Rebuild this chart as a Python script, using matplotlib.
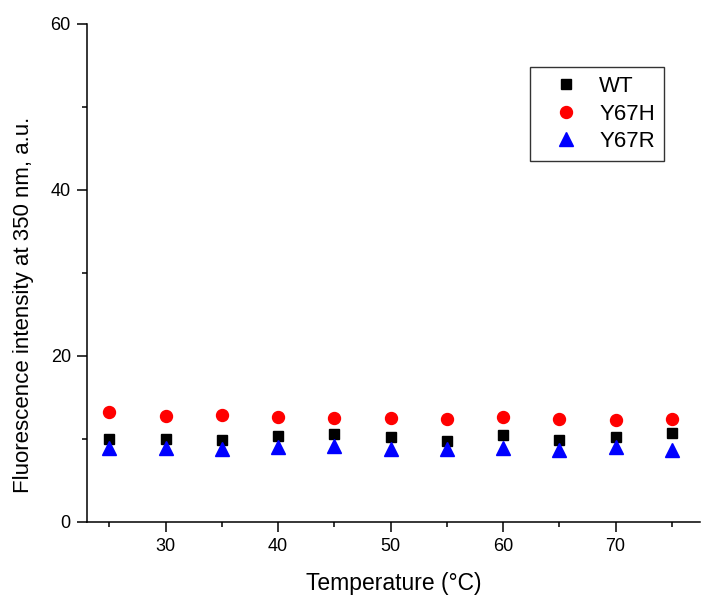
import matplotlib
matplotlib.use("Agg")
import matplotlib.pyplot as plt
from matplotlib.ticker import MultipleLocator

plt.rcParams['font.family'] = ['Liberation Sans', 'DejaVu Sans']

temperature = [25, 30, 35, 40, 45, 50, 55, 60, 65, 70, 75]
wt = [10.04, 9.98, 9.88, 10.38, 10.60, 10.24, 9.80, 10.44, 9.92, 10.24, 10.68]
y67h = [13.22, 12.77, 12.89, 12.61, 12.49, 12.49, 12.41, 12.61, 12.41, 12.29, 12.41]
y67r = [8.95, 8.87, 8.75, 9.00, 9.12, 8.84, 8.75, 8.87, 8.67, 9.00, 8.67]

fig = plt.figure(figsize=(7.01, 6.02), dpi=100)
ax = fig.add_axes([87/701, 1-522/602, (700-87)/701, (522-24)/602])

ax.plot(temperature, wt, linestyle='none', marker='s', color='black', markersize=7.2, label='WT')
ax.plot(temperature, y67h, linestyle='none', marker='o', color='red', markersize=8.6, label='Y67H')
ax.plot(temperature, y67r, linestyle='none', marker='^', color='blue', markersize=9.4, label='Y67R')

ax.set_xlim(23.02, 77.5)
ax.set_ylim(0, 60)
ax.xaxis.set_major_locator(MultipleLocator(10))
ax.xaxis.set_minor_locator(MultipleLocator(5))
ax.yaxis.set_major_locator(MultipleLocator(20))
ax.yaxis.set_minor_locator(MultipleLocator(10))
ax.set_xticks([30, 40, 50, 60, 70])
for s in ['top', 'right']:
    ax.spines[s].set_visible(False)
for s in ['left', 'bottom']:
    ax.spines[s].set_linewidth(1.1)
ax.tick_params(which='major', direction='out', length=7.2, width=1.1, labelsize=13, pad=4.5)
ax.tick_params(which='minor', direction='out', length=3.6, width=1.1)

ax.set_xlabel('Temperature (°C)', fontsize=16.5, labelpad=12)
ax.set_ylabel('Fluorescence intensity at 350 nm, a.u.', fontsize=16)
ax.yaxis.set_label_coords(-0.087, 0.435)

leg = ax.legend(loc='upper right', bbox_to_anchor=((664-87)/613, (522-67)/498),
                borderaxespad=0, fontsize=16, frameon=True,
                fancybox=False, edgecolor='black', handletextpad=0.3, borderpad=0.4,
                labelspacing=0.3, handlelength=2.4)
leg.get_frame().set_linewidth(1.0)

fig.savefig('out.png', dpi=100)
